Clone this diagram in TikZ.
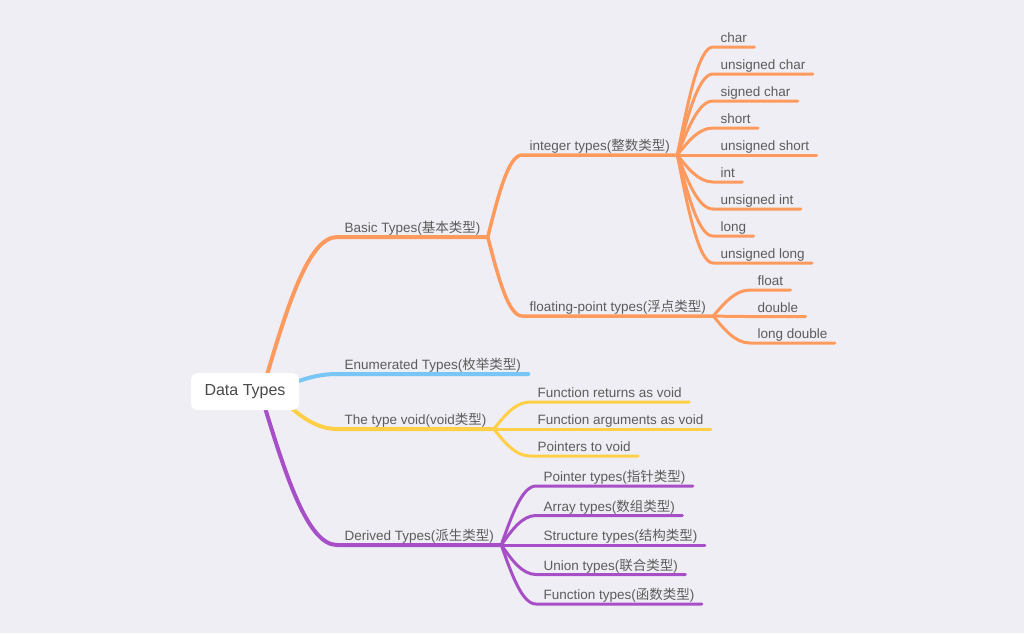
\documentclass[tikz,border=0pt]{standalone}
\usepackage{fontspec}
\setmainfont{Liberation Sans}
\newfontfamily\cjk{Noto Sans CJK SC}
\usetikzlibrary{calc,backgrounds}
\definecolor{bg}{HTML}{EFEEF4}
\definecolor{org}{HTML}{FF9A5E}
\definecolor{blu}{HTML}{78C6F5}
\definecolor{yel}{HTML}{FFCF48}
\definecolor{pur}{HTML}{A64FC6}
\definecolor{txt}{HTML}{5C5C5C}
\newcommand\zh[1]{{\cjk #1}}
\begin{document}
\begin{tikzpicture}[x=1pt,y=-1pt,
  lbl/.style={anchor=south west, inner xsep=7.5pt, inner ysep=4.5pt, text depth=0pt,
    outer sep=0pt, font=\fontsize{13.5}{16}\selectfont, text=txt},
  rootbox/.style={fill=white, rounded corners=7pt, minimum width=108pt, minimum height=37pt,
    inner sep=0pt, font=\fontsize{16}{19}\selectfont, text=txt!80!black},
  mm/.style={to path={let \p1=(\tikztostart), \p2=(\tikztotarget) in
    .. controls ({\x1+0.3*(\x2-\x1)},{\y1+0.5*(\y2-\y1)}) and ({\x1+0.6*(\x2-\x1)},\y2) .. (\tikztotarget)}},
  br/.style={line width=4pt, line cap=round, mm},
  sb/.style={line width=3.5pt, line cap=round, mm},
  lf/.style={line width=3pt, line cap=round, mm},
]
\useasboundingbox (0,0) rectangle (1024,633);
\node[rootbox] (root) at (245,391.5) {Data Types};
% level 1
\node[lbl] (basic) at (337,237) {Basic Types(\zh{基本类型})};
\node[lbl] (enum) at (337,374) {Enumerated Types(\zh{枚举类型})};
\node[lbl] (void) at (337,429) {The type void(void\zh{类型})};
\node[lbl] (derived) at (337,545) {Derived Types(\zh{派生类型})};
% level 2
\node[lbl] (int) at (522,155) {integer types(\zh{整数类型})};
\node[lbl] (flt) at (522,316) {floating-point types(\zh{浮点类型})};
% integer leaves
\node[lbl] (i1) at (713,47) {char};
\node[lbl] (i2) at (713,74) {unsigned char};
\node[lbl] (i3) at (713,101) {signed char};
\node[lbl] (i4) at (713,128) {short};
\node[lbl] (i5) at (713,155) {unsigned short};
\node[lbl] (i6) at (713,182) {int};
\node[lbl] (i7) at (713,209) {unsigned int};
\node[lbl] (i8) at (713,236) {long};
\node[lbl] (i9) at (713,263) {unsigned long};
% float leaves
\node[lbl] (f1) at (750,290) {float};
\node[lbl] (f2) at (750,316.5) {double};
\node[lbl] (f3) at (750,343) {long double};
% void leaves
\node[lbl] (v1) at (530,402) {Function returns as void};
\node[lbl] (v2) at (530,429) {Function arguments as void};
\node[lbl] (v3) at (530,456) {Pointers to void};
% derived leaves
\node[lbl] (d1) at (536,486) {Pointer types(\zh{指针类型})};
\node[lbl] (d2) at (536,515.5) {Array types(\zh{数组类型})};
\node[lbl] (d3) at (536,545) {Structure types(\zh{结构类型})};
\node[lbl] (d4) at (536,574.5) {Union types(\zh{联合类型})};
\node[lbl] (d5) at (536,604) {Function types(\zh{函数类型})};
% root exit points
\coordinate (rO) at (264,385);
\coordinate (rB) at (290,384);
\coordinate (rY) at (282,400);
\coordinate (rP) at (262,398);
\begin{scope}[on background layer]
\fill[bg] (0,0) rectangle (1024,633);
\draw[br,org] (rO) to (basic.south west) -- (basic.south east);
\draw[br,blu] (rB) to (enum.south west) -- (enum.south east);
\draw[br,yel] (rY) to (void.south west) -- (void.south east);
\draw[br,pur] (rP) to (derived.south west) -- (derived.south east);
\foreach \c in {int,flt}
  \draw[sb,org] (basic.south east) to (\c.south west) -- (\c.south east);
\foreach \c in {i1,i2,i3,i4,i5,i6,i7,i8,i9}
  \draw[lf,org] (int.south east) to (\c.south west) -- (\c.south east);
\foreach \c in {f1,f2,f3}
  \draw[lf,org] (flt.south east) to (\c.south west) -- (\c.south east);
\foreach \c in {v1,v2,v3}
  \draw[lf,yel] (void.south east) to (\c.south west) -- (\c.south east);
\foreach \c in {d1,d2,d3,d4,d5}
  \draw[lf,pur] (derived.south east) to (\c.south west) -- (\c.south east);
\end{scope}
\end{tikzpicture}
\end{document}
